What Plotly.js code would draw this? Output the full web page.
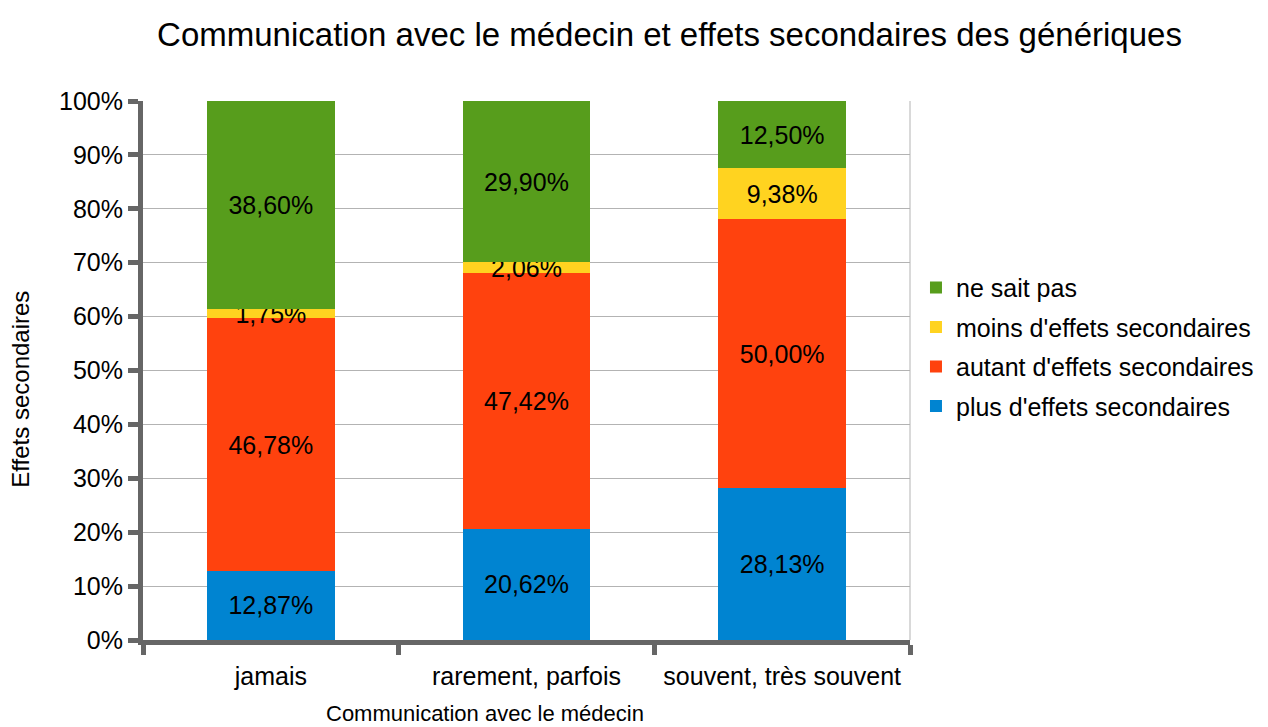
<!DOCTYPE html>
<html><head><meta charset="utf-8">
<script src="https://cdn.plot.ly/plotly-3.0.1.min.js"></script>
<style>html,body{margin:0;padding:0;background:#fff}#chart{width:1268px;height:727px}</style>
</head><body><div id="chart"></div>
<script>
const categories = ["jamais", "rarement, parfois", "souvent, très souvent"];
const seriesNames = ["plus d'effets secondaires", "autant d'effets secondaires", "moins d'effets secondaires", "ne sait pas"];
const plusEffets = [12.87, 20.62, 28.13];
const autantEffets = [46.78, 47.42, 50.00];
const moinsEffets = [1.75, 2.06, 9.38];
const neSaitPas = [38.60, 29.90, 12.50];
const seriesValues = [plusEffets, autantEffets, moinsEffets, neSaitPas];
const colors = ["#0084d1", "#ff420e", "#ffd320", "#579d1c"];
const yTickVals = [0,10,20,30,40,50,60,70,80,90,100];
const yTickText = ["0%","10%","20%","30%","40%","50%","60%","70%","80%","90%","100%"];

const font = "Liberation Sans, Arial, sans-serif";
const traces = seriesValues.map((vals, i) => ({
  type: "bar",
  name: seriesNames[i],
  x: categories,
  y: vals,
  width: 0.5,
  marker: {color: colors[i], line: {width: 0}},
  texttemplate: "%{y:.2f}%",
  textposition: "inside",
  insidetextanchor: "middle",
  constraintext: "none",
  textfont: {family: font, size: 25, color: "#000"},
  legendgroup: "g" + i,
  legendrank: 4 - i,
  hoverinfo: "skip"
}));

const layout = {
  width: 1268, height: 727,
  margin: {l: 143, r: 358, t: 101, b: 87, autoexpand: false},
  paper_bgcolor: "#fff", plot_bgcolor: "#fff",
  separators: ", ",
  barmode: "stack",
  font: {family: font, color: "#000"},
  title: {text: "Communication avec le médecin et effets secondaires des génériques",
          font: {family: font, size: 33, color: "#000"}, x: 0.528, xanchor: "center", y: 0.952, yanchor: "middle"},
  xaxis: {type: "category", range: [-0.5, 2.5], tickson: "boundaries", tickangle: 0,
          ticks: "outside", ticklen: 10, tickwidth: 5, tickcolor: "#666", ticklabelstandoff: 10,
          showline: true, linewidth: 5, linecolor: "#666", showgrid: false, automargin: false,
          tickfont: {family: font, size: 25, color: "#000"}, fixedrange: true},
  yaxis: {range: [0, 100], tickmode: "array", tickvals: yTickVals, ticktext: yTickText,
          ticks: "outside", ticklen: 10, tickwidth: 5, tickcolor: "#666",
          showline: true, linewidth: 5, linecolor: "#666", automargin: false,
          showgrid: true, gridcolor: "#b3b3b3", gridwidth: 1, zeroline: false,
          tickfont: {family: font, size: 25, color: "#000"}, fixedrange: true},
  legend: {x: 1.0078, xanchor: "left", y: 0.544, yanchor: "middle", traceorder: "grouped",
           tracegroupgap: 4, font: {family: font, size: 25, color: "#000"}, bgcolor: "rgba(0,0,0,0)"},
  shapes: [{type: "line", xref: "paper", yref: "paper", x0: 1, x1: 1, y0: 0, y1: 1,
            line: {color: "#b3b3b3", width: 1}}],
  annotations: [
    {text: "Effets secondaires", xref: "paper", yref: "paper", x: -0.16, y: 0.465,
     xanchor: "center", yanchor: "middle", textangle: -90, showarrow: false,
     font: {family: font, size: 24, color: "#000"}},
    {text: "Communication avec le médecin", xref: "paper", yref: "paper", x: 0.446, y: -0.1355,
     xanchor: "center", yanchor: "middle", showarrow: false,
     font: {family: font, size: 22, color: "#000"}}
  ]
};
Plotly.newPlot("chart", traces, layout, {displayModeBar: false, staticPlot: true});
</script></body></html>
